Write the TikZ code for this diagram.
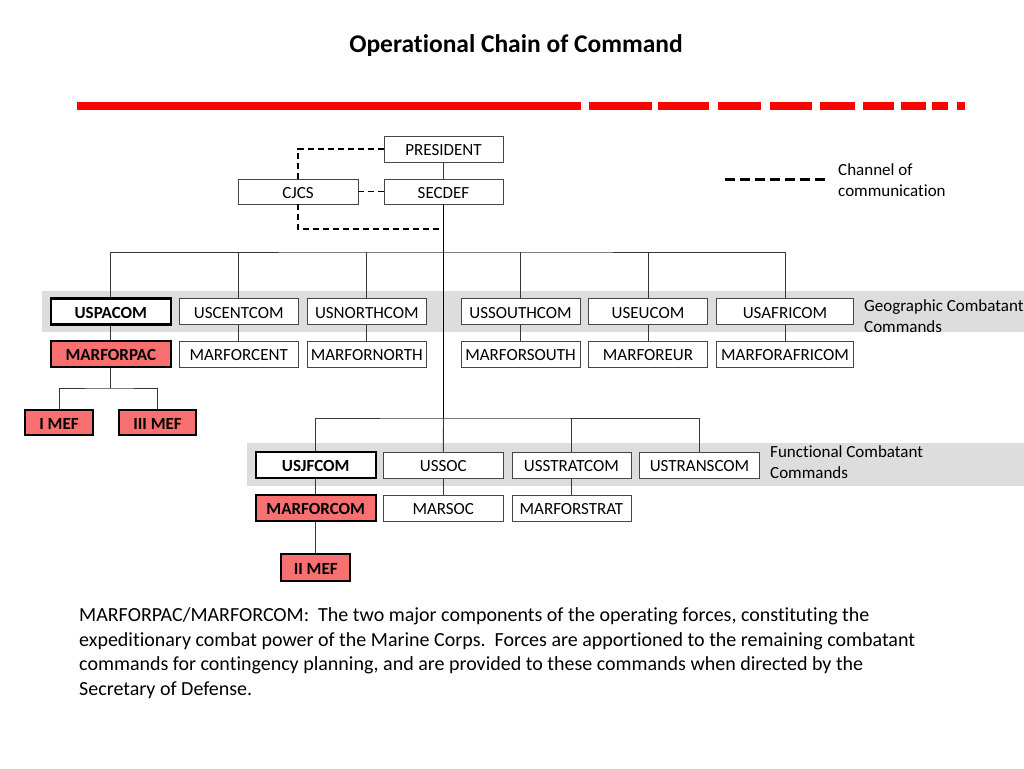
\documentclass[tikz,border=0pt]{standalone}
\usepackage{fontspec}
\setmainfont{Carlito}[Ligatures=NoCommon]
\definecolor{redbar}{RGB}{255,0,0}
\definecolor{redfill}{RGB}{248,112,112}
\definecolor{bandgray}{RGB}{221,221,221}
\definecolor{linegray}{RGB}{55,55,55}
\definecolor{boxgray}{RGB}{70,70,70}
\begin{document}
\begin{tikzpicture}[x=1pt,y=-1pt,
  unit/.style={draw=boxgray, line width=0.8pt, fill=white, minimum width=120, minimum height=26, inner sep=0pt, text height=13pt, text depth=0pt, font=\fontsize{17}{20}\selectfont},
  keyunit/.style={unit, draw=black, line width=2.2pt, font=\fontsize{17}{20}\selectfont\bfseries},
  marunit/.style={keyunit, fill=redfill},
  conn/.style={draw=linegray, line width=0.9pt},
  trunk/.style={draw=black, line width=1.6pt},
  dashline/.style={draw=black, line width=1.3pt, dash pattern=on 6pt off 4pt},
  legdash/.style={draw=black, line width=2.2pt, dash pattern=on 10pt off 5pt},
  lbl/.style={anchor=north west, align=left, inner sep=0pt, font=\fontsize{17}{21}\selectfont}
]
\useasboundingbox (0,0) rectangle (1024,768);
\fill[white] (0,0) rectangle (1024,768);

% title
\node[font=\fontsize{25.5}{30}\selectfont\bfseries] (title) at (516,46) {Operational Chain of Command};

% red bar
\foreach \a/\b in {77/581, 589/652, 658/709, 718/761, 770/812, 820/855, 863/894, 901/926, 932/948, 957/965}
  \fill[redbar] (\a,102) rectangle (\b,110);

% bands
\fill[bandgray] (42,291) rectangle (1024,332);
\fill[bandgray] (247,443) rectangle (1024,486);

% top nodes
\node[unit, minimum width=119] (president) at (443.5,149) {PRESIDENT};
\node[unit, minimum width=119, minimum height=25] (secdef) at (443.5,191.5) {SECDEF};
\node[unit, minimum height=25] (cjcs) at (298,191.5) {CJCS};

% geographic row
\node[keyunit] (uspacom) at (110.8,311.5) {USPACOM};
\node[unit, minimum width=119] (uscentcom) at (238.7,311.5) {USCENTCOM};
\node[unit, minimum width=119] (usnorthcom) at (366.8,311.5) {USNORTHCOM};
\node[unit, minimum width=119] (ussouthcom) at (520.5,311.5) {USSOUTHCOM};
\node[unit, minimum width=119] (useucom) at (648,311.5) {USEUCOM};
\node[unit, minimum width=137] (usafricom) at (785,311.5) {USAFRICOM};

\node[marunit] (marforpac) at (110.8,354) {MARFORPAC};
\node[unit, minimum width=119] (marforcent) at (238.7,354) {MARFORCENT};
\node[unit, minimum width=119] (marfornorth) at (366.8,354) {MARFORNORTH};
\node[unit, minimum width=119] (marforsouth) at (520.5,354) {MARFORSOUTH};
\node[unit, minimum width=119] (marforeur) at (648,354) {MARFOREUR};
\node[unit, minimum width=137] (marforafricom) at (785,354) {MARFORAFRICOM};

\node[marunit, minimum width=68, minimum height=25] (imef) at (59,422.5) {I MEF};
\node[marunit, minimum width=77, minimum height=25] (iiimef) at (157.5,422.5) {III MEF};

% functional row
\node[keyunit] (usjfcom) at (315.7,465) {USJFCOM};
\node[unit] (ussoc) at (443.3,465) {USSOC};
\node[unit, minimum width=119] (usstratcom) at (571.4,465) {USSTRATCOM};
\node[unit] (ustranscom) at (699.5,465) {USTRANSCOM};

\node[marunit] (marforcom) at (315.7,508) {MARFORCOM};
\node[unit] (marsoc) at (443.3,508) {MARSOC};
\node[unit, minimum width=119] (marforstrat) at (571.4,508) {MARFORSTRAT};

\node[marunit, minimum width=69, minimum height=27] (iimef) at (315.7,567.5) {II MEF};

% coordinates
\coordinate (gbus) at (443.5,252);
\coordinate (fbus) at (443.5,418);
\coordinate (mefbus) at (110.8,388);
\coordinate (dj) at (443.5,229);

% solid connectors
\draw[conn] (president) -- (secdef);
\draw[trunk] (secdef.south) -- (fbus);
\draw[conn] (uspacom.north) |- (gbus) -| (usafricom.north);
\foreach \n in {uscentcom, usnorthcom, ussouthcom, useucom}
  \draw[conn] (\n.north) -- (\n.north |- gbus);
\foreach \u/\m in {uspacom/marforpac, uscentcom/marforcent, usnorthcom/marfornorth, ussouthcom/marforsouth, useucom/marforeur, usafricom/marforafricom}
  \draw[conn] (\u) -- (\m);
\draw[conn] (marforpac.south) -- (mefbus);
\draw[conn] (imef.north) |- (mefbus) -| (iiimef.north);
\draw[conn] (usjfcom.north) |- (fbus) -| (ustranscom.north);
\draw[conn] (ussoc.north) -- (fbus);
\draw[conn] (usstratcom.north) -- (usstratcom.north |- fbus);
\foreach \u/\m in {usjfcom/marforcom, ussoc/marsoc, usstratcom/marforstrat, marforcom/iimef}
  \draw[conn] (\u) -- (\m);

% dashed connectors
\draw[dashline] (president.west) -| (cjcs.north);
\draw[dashline] (cjcs.east) -- (secdef.west);
\draw[dashline] (cjcs.south) |- (dj);

% legend
\coordinate (lega) at (725,179.5);
\coordinate (legb) at (828,179.5);
\draw[legdash] (lega) -- (legb);
\node[lbl] (legtxt) at (838,163) {Channel of\\communication};

% band labels
\node[lbl] (geolbl) at (864,299.5) {Geographic Combatant\\Commands};
\node[lbl] (funlbl) at (770,445) {Functional Combatant\\Commands};

% bottom text
\node[anchor=north west, align=left, inner sep=0pt, font=\fontsize{20}{24.5}\selectfont] (note) at (79,607.5)
{MARFORPAC/MARFORCOM:\ \ The two major components of the operating forces, constituting the\\
expeditionary combat power of the Marine Corps.\ \ Forces are apportioned to the remaining combatant\\
commands for contingency planning, and are provided to these commands when directed by the\\
Secretary of Defense.};
\end{tikzpicture}
\end{document}
